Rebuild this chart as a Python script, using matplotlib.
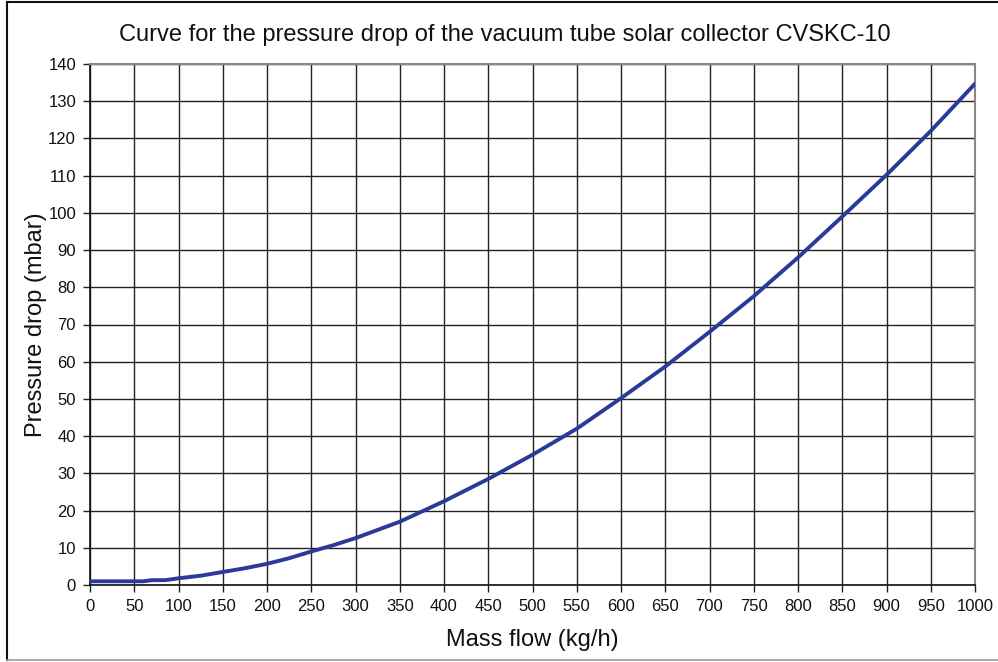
import numpy as np
import matplotlib
matplotlib.use("Agg")
import matplotlib.pyplot as plt
from matplotlib.lines import Line2D

plt.rcParams['font.family'] = ['Liberation Sans', 'DejaVu Sans']

# values
mass_flow = [0, 25, 50, 60, 70, 85, 100, 125, 150, 175, 200, 225, 250, 275, 300,
             350, 400, 450, 500, 550, 600, 650, 700, 750, 800, 850, 900, 950, 1000]
pressure_drop = [1.0, 1.0, 1.0, 1.0, 1.3, 1.3, 1.8, 2.5, 3.5, 4.5, 5.7, 7.2, 9.0, 10.7, 12.6,
                 17.0, 22.5, 28.5, 35.0, 42.0, 50.2, 58.7, 68.0, 77.6, 88.0, 99.0, 110.2, 122.0, 134.7]

fig = plt.figure(figsize=(9.98, 6.62), dpi=100)
ax = fig.add_axes([90/998, 1-585/662, (975-90)/998, (585-64)/662])

ax.plot(mass_flow, pressure_drop, color='#2b3a98', lw=2.8, solid_capstyle='round', zorder=3)

ax.set_xlim(0, 1000)
ax.set_ylim(0, 140)
ax.set_xticks(np.arange(0, 1001, 50))
ax.set_yticks(np.arange(0, 141, 10))
ax.grid(True, color='#222222', lw=1)
ax.tick_params(direction='out', length=5, width=1, color='#222222', labelsize=12, pad=5,
               labelcolor='#111111')
for s in ['left', 'bottom']:
    ax.spines[s].set_color('#111111')
    ax.spines[s].set_linewidth(1.2)
for s in ['top', 'right']:
    ax.spines[s].set_color('#888888')
    ax.spines[s].set_linewidth(1.5)

ax.set_xlabel("Mass flow (kg/h)", fontsize=17, labelpad=11, color='#111111')
ax.set_ylabel("Pressure drop (mbar)", fontsize=17, labelpad=1, color='#111111')
fig.text(505/998, 1-35/662, "Curve for the pressure drop of the vacuum tube solar collector CVSKC-10",
         ha='center', va='center', fontsize=17, color='#111111')

# outer frame
fig.add_artist(Line2D([7/998, 1], [1-2/662, 1-2/662], transform=fig.transFigure, color='#111111', lw=1.5))
fig.add_artist(Line2D([7/998, 7/998], [1-2/662, 1-660/662], transform=fig.transFigure, color='#111111', lw=1.5))
fig.add_artist(Line2D([7/998, 1], [1-660/662, 1-660/662], transform=fig.transFigure, color='#999999', lw=1.2))

fig.savefig("out.png", dpi=100)
